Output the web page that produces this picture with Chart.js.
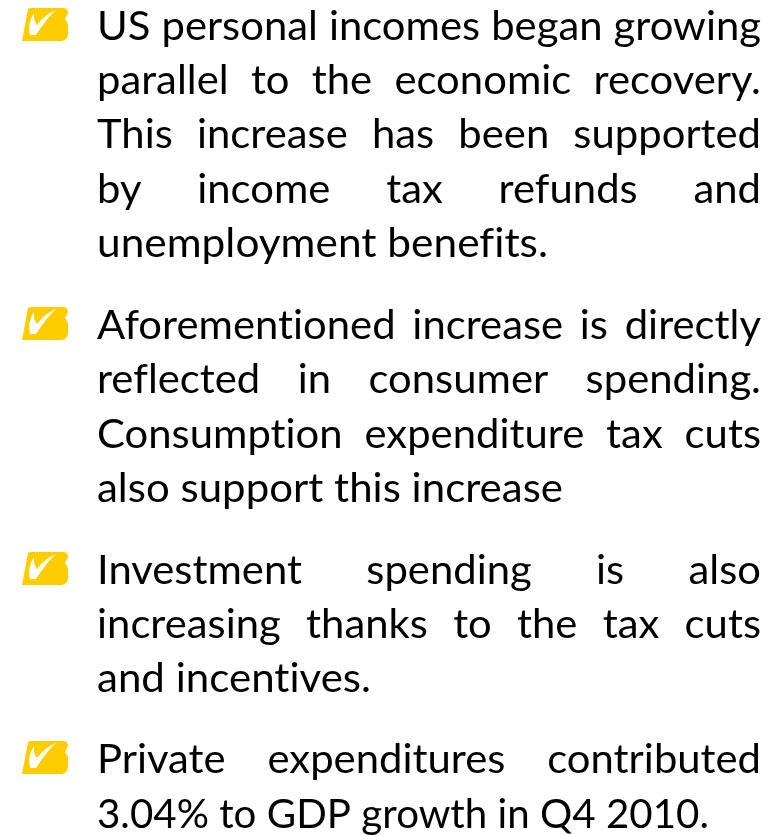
<!DOCTYPE html>
<html>
<head>
<meta charset="utf-8">
<title>Private expenditures</title>
<script src="https://cdn.jsdelivr.net/npm/chart.js@4"></script>
<style>
  html, body { margin: 0; padding: 0; background: #fff; }
  canvas { display: block; }
</style>
</head>
<body>
<canvas id="slideChart" width="780" height="835"></canvas>
<script>
const textLines = [
  "US personal incomes began growing",
  "parallel to the economic recovery.",
  "This increase has been supported",
  "by income tax refunds and",
  "unemployment benefits.",
  "Aforementioned increase is directly",
  "reflected in consumer spending.",
  "Consumption expenditure tax cuts",
  "also support this increase",
  "Investment spending is also",
  "increasing thanks to the tax cuts",
  "and incentives.",
  "Private expenditures contributed",
  "3.04% to GDP growth in Q4 2010."
];
const lineRows = [40, 94, 148, 203, 257, 339, 393, 448, 502, 584, 638, 692, 773, 828];
const lineEnds = [761, 761, 761, 761, 548, 761, 761, 761, 563, 761, 761, 371, 761, 709];
const lastLines = [4, 8, 11, 13];
const bulletRows = [24.5, 323.5, 568.5, 757.5];

const TEXT_LEFT = 97;
const BULLET_X = 45;
const FONT_SIZE = 40;
const SQUEEZE = 1.045;

function makeBullet() {
  const c = document.createElement('canvas');
  c.width = 46;
  c.height = 33;
  const g = c.getContext('2d');
  g.fillStyle = '#ffcc00';
  g.beginPath();
  g.moveTo(6, 1);
  g.quadraticCurveTo(7, 0, 10, 0);
  g.lineTo(41, 0);
  g.quadraticCurveTo(46, 0, 46, 5);
  g.lineTo(43, 11);
  g.lineTo(46, 16);
  g.lineTo(46, 27);
  g.quadraticCurveTo(45, 32, 40, 33);
  g.lineTo(0, 33);
  g.closePath();
  g.fill();
  g.fillStyle = '#ffffff';
  g.beginPath();
  g.moveTo(8, 27);
  g.quadraticCurveTo(5, 15, 12, 5);
  g.quadraticCurveTo(11, 12, 15, 17);
  g.quadraticCurveTo(22, 7, 34, 2);
  g.quadraticCurveTo(24, 11, 14, 27);
  g.closePath();
  g.fill();
  return c;
}

// draws the lines of text at the points of the hidden text dataset
const justifiedText = {
  id: 'justifiedText',
  afterDatasetsDraw(chart) {
    const ctx = chart.ctx;
    const points = chart.getDatasetMeta(1).data;
    ctx.save();
    ctx.font = FONT_SIZE + 'px Lato';
    ctx.letterSpacing = '0.01px'; // keeps "ti" and "fi" as separate letters
    ctx.fillStyle = '#000000';
    ctx.textBaseline = 'alphabetic';
    ctx.textAlign = 'left';
    points.forEach((point, i) => {
      const line = textLines[i];
      const target = lineEnds[i] - TEXT_LEFT;
      ctx.wordSpacing = '0px';
      const natural = ctx.measureText(line).width;
      let squeeze = target / natural;
      let extra = 0;
      if (!lastLines.includes(i)) {
        squeeze = SQUEEZE;
        extra = (target / SQUEEZE - natural) / (line.split(' ').length - 1);
      }
      ctx.wordSpacing = extra + 'px';
      ctx.save();
      ctx.translate(point.x, point.y);
      ctx.scale(squeeze, 1);
      ctx.fillText(line, 0, 0);
      ctx.restore();
    });
    ctx.restore();
  }
};

new Chart(document.getElementById('slideChart').getContext('2d'), {
  type: 'scatter',
  data: {
    datasets: [
      {
        label: 'Bullets',
        data: bulletRows.map(y => ({ x: BULLET_X, y: y })),
        pointStyle: makeBullet(),
        pointRadius: 20
      },
      {
        label: 'Text',
        data: lineRows.map(y => ({ x: TEXT_LEFT, y: y })),
        pointRadius: 0
      }
    ]
  },
  options: {
    responsive: false,
    animation: false,
    layout: { padding: 0, autoPadding: false },
    plugins: { legend: { display: false }, tooltip: { enabled: false } },
    scales: {
      x: { type: 'linear', min: 0, max: 780, display: false },
      y: { type: 'linear', min: 0, max: 835, reverse: true, display: false }
    }
  },
  plugins: [justifiedText]
});
</script>
</body>
</html>
